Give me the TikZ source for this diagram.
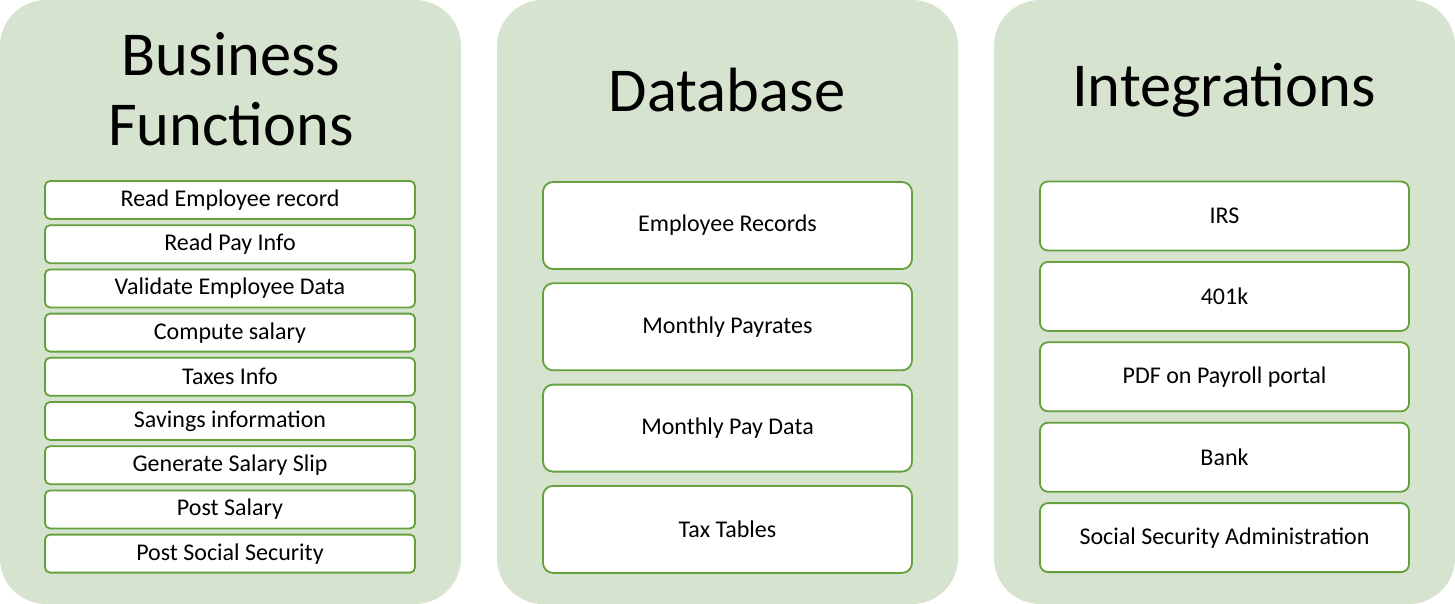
\documentclass[tikz,border=0pt]{standalone}
\usepackage{fontspec}
\setmainfont{Carlito}
\definecolor{panelfill}{HTML}{D6E4CF}
\definecolor{boxline}{HTML}{64A03C}
\begin{document}
\begin{tikzpicture}[x=1pt,y=-1pt,
  panel/.style={fill=panelfill, draw=none, rounded corners=46pt, minimum width=461pt, minimum height=604pt, inner sep=0pt},
  title/.style={font=\fontsize{62.5}{70}\selectfont, align=center, text=black},
  sbox/.style={draw=boxline, line width=1.8pt, fill=white, rounded corners=5pt, minimum width=370pt, minimum height=38pt, inner sep=0pt, font=\fontsize{24}{26}\selectfont},
  mbox/.style={sbox, rounded corners=10pt, minimum width=369pt, minimum height=87pt},
  rbox/.style={sbox, rounded corners=8pt, minimum width=369pt, minimum height=69pt}]
\useasboundingbox (0,0) rectangle (1455,603);
\node[panel] (p1) at (230.5,302) {};
\node[panel] (p2) at (727.5,302) {};
\node[panel] (p3) at (1224.5,302) {};
\node[title] (t1) at (231,89) {Business\\Functions};
\node[title] (t2) at (727,90) {Database};
\node[title] (t3) at (1224,90) {Integrations};
% left
\node[sbox] (b1) at (230,200.0) {Read Employee record};
\node[sbox] (b2) at (230,244.2) {Read Pay Info};
\node[sbox] (b3) at (230,288.4) {Validate Employee Data};
\node[sbox] (b4) at (230,332.6) {Compute salary};
\node[sbox] (b5) at (230,376.8) {Taxes Info};
\node[sbox] (b6) at (230,421.0) {Savings information};
\node[sbox] (b7) at (230,465.2) {Generate Salary Slip};
\node[sbox] (b8) at (230,509.4) {Post Salary};
\node[sbox] (b9) at (230,553.6) {Post Social Security};
% middle
\node[mbox] (d1) at (727.5,225.5) {Employee Records};
\node[mbox] (d2) at (727.5,326.8) {Monthly Payrates};
\node[mbox] (d3) at (727.5,428.1) {Monthly Pay Data};
\node[mbox] (d4) at (727.5,529.4) {Tax Tables};
% right
\node[rbox] (i1) at (1224.5,216.0) {IRS};
\node[rbox] (i2) at (1224.5,296.4) {401k};
\node[rbox] (i3) at (1224.5,376.8) {PDF on Payroll portal};
\node[rbox] (i4) at (1224.5,457.2) {Bank};
\node[rbox] (i5) at (1224.5,537.6) {Social Security Administration};
\end{tikzpicture}
\end{document}
